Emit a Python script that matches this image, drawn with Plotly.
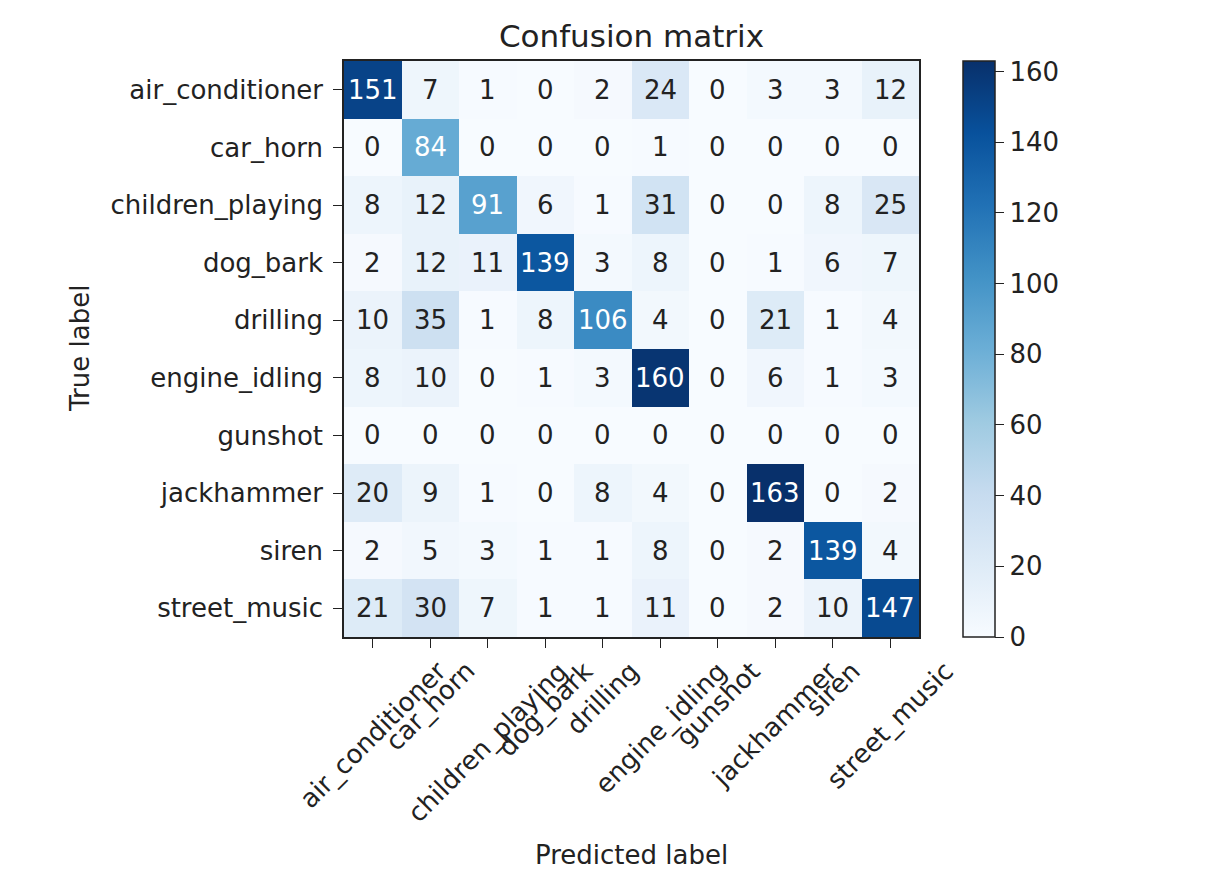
import plotly.graph_objects as go

classes = ['air_conditioner', 'car_horn', 'children_playing', 'dog_bark', 'drilling',
           'engine_idling', 'gunshot', 'jackhammer', 'siren', 'street_music']

# rows = true label, columns = predicted label
cm = [
    [151, 7, 1, 0, 2, 24, 0, 3, 3, 12],
    [0, 84, 0, 0, 0, 1, 0, 0, 0, 0],
    [8, 12, 91, 6, 1, 31, 0, 0, 8, 25],
    [2, 12, 11, 139, 3, 8, 0, 1, 6, 7],
    [10, 35, 1, 8, 106, 4, 0, 21, 1, 4],
    [8, 10, 0, 1, 3, 160, 0, 6, 1, 3],
    [0, 0, 0, 0, 0, 0, 0, 0, 0, 0],
    [20, 9, 1, 0, 8, 4, 0, 163, 0, 2],
    [2, 5, 3, 1, 1, 8, 0, 2, 139, 4],
    [21, 30, 7, 1, 1, 11, 0, 2, 10, 147],
]
cbar_ticks = [0, 20, 40, 60, 80, 100, 120, 140, 160]

font = 'DejaVu Sans'
fs = 26
zmax = max(max(r) for r in cm)
thresh = zmax / 2.

# target plot area on screen: x 344..919, y 61..637 (page has an 8px body margin)
W, H = 1226, 892
off = 8
L, R, T, B = 344 - off, 919 - off, 61 - off, 637 - off
pw, ph = R - L, B - T
n = len(classes)

fig = go.Figure()
fig.add_trace(go.Heatmap(
    z=cm, x=classes, y=classes,
    colorscale='Blues', zmin=0, zmax=zmax,
    hoverinfo='skip',
    colorbar=dict(
        x=(963 - off - L) / pw, xanchor='left', xpad=0, ypad=0,
        thickness=32, len=1, lenmode='fraction', y=0.5, yanchor='middle',
        outlinecolor='#222', outlinewidth=1.5,
        tickvals=cbar_ticks, ticks='outside', ticklen=9, tickcolor='#222',
        tickfont=dict(family=font, size=fs, color='#222'),
    ),
))

annotations = []
for i, row in enumerate(cm):
    for j, v in enumerate(row):
        annotations.append(dict(
            x=classes[j], y=classes[i], xref='x', yref='y', text=str(v),
            showarrow=False,
            font=dict(family=font, size=fs, color='white' if v > thresh else '#222'),
        ))

# rotated x tick labels, centred on the tick like matplotlib
for c in classes:
    annotations.append(dict(
        x=c, y=0, xref='x', yref='paper', text=c, textangle=-45,
        showarrow=False, xanchor='center', yanchor='top', yshift=-16,
        font=dict(family=font, size=fs, color='#222'),
    ))

annotations.append(dict(
    x=0.5, y=(637 - 855) / ph, xref='paper', yref='paper', text='Predicted label',
    showarrow=False, xanchor='center', yanchor='middle',
    font=dict(family=font, size=fs, color='#222'),
))
annotations.append(dict(
    x=(80 - 344) / pw, y=0.5, xref='paper', yref='paper', text='True label',
    textangle=-90, showarrow=False, xanchor='center', yanchor='middle',
    font=dict(family=font, size=fs, color='#222'),
))

fig.update_layout(
    width=W, height=H,
    margin=dict(l=L, r=W - R, t=T, b=H - B, autoexpand=False),
    paper_bgcolor='white', plot_bgcolor='white',
    title=dict(text='Confusion matrix', x=0.5, xref='paper', xanchor='center',
               y=1 - (36 - off) / H, yref='container', yanchor='middle',
               font=dict(family=font, size=31, color='#222')),
    annotations=annotations,
    showlegend=False,
)
fig.update_xaxes(
    range=[-0.5, n - 0.5],
    showticklabels=False, ticks='outside', ticklen=9, tickcolor='#222',
    showline=True, mirror=True, linecolor='#222', linewidth=1.5,
    showgrid=False, zeroline=False,
)
fig.update_yaxes(
    range=[n - 0.5, -0.5], ticks='outside', ticklen=9, tickcolor='#222',
    tickfont=dict(family=font, size=fs, color='#222'), ticklabelstandoff=5,
    showline=True, mirror=True, linecolor='#222', linewidth=1.5,
    showgrid=False, zeroline=False, automargin=False,
)

fig.write_html("out.html")
